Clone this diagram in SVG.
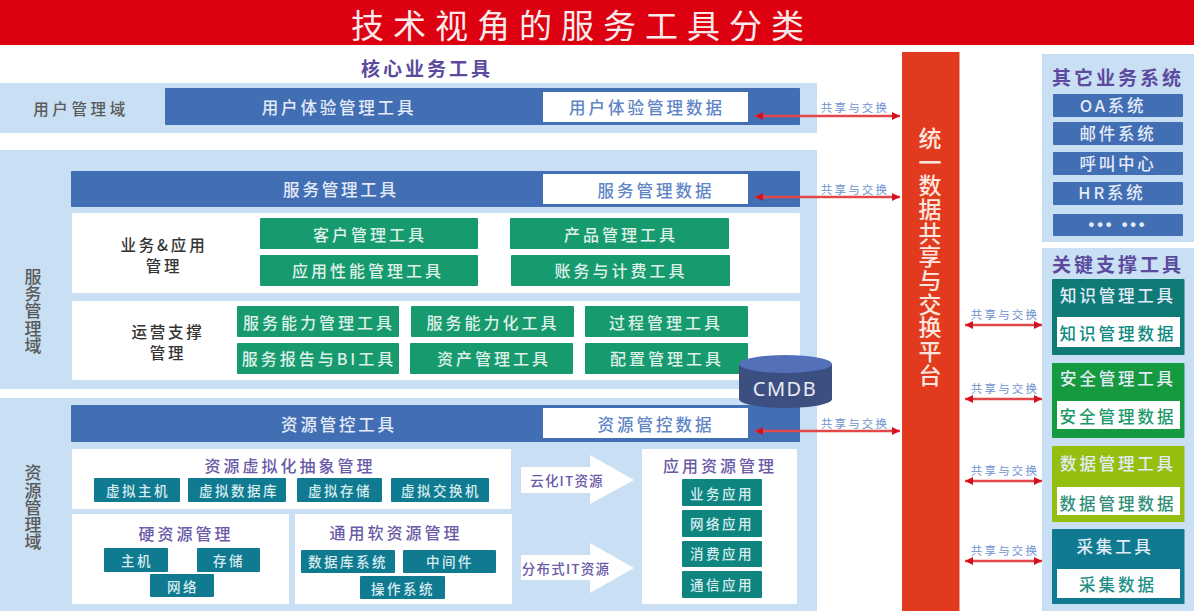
<svg xmlns="http://www.w3.org/2000/svg" width="1194" height="614" viewBox="0 0 1194 614">
<style>
text{font-family:"Noto Sans CJK SC","Noto Sans",sans-serif;text-anchor:middle;dominant-baseline:central}
.panel{fill:#c9dff3}.white{fill:#fff}.bar{fill:#426eb4}.green{fill:#169a6e}.teal{fill:#0f7a90}.app{fill:#0f8580}
.t-title{font-size:33px;letter-spacing:9px;fill:#fbeaea}
.t-head{font-size:19px;letter-spacing:3px;font-weight:700;fill:#5b4a9e}
.t-bar{font-size:16.5px;letter-spacing:2.8px;font-weight:500;fill:#e3ebf8}
.t-data{font-size:16.5px;letter-spacing:3px;font-weight:500;fill:#5f86c6}
.t-dom{font-size:15.5px;letter-spacing:3.6px;font-weight:500;fill:#5a5a5a}
.t-side{font-size:17px;letter-spacing:.3px;font-weight:500;fill:#5a5a5a;writing-mode:vertical-rl;text-orientation:upright}
.t-plat{font-size:23px;letter-spacing:.7px;font-weight:500;fill:#fbe6df;writing-mode:vertical-rl;text-orientation:upright}
.t-grp{font-size:15.5px;letter-spacing:2.8px;font-weight:500;fill:#333}
.t-btn{font-size:16px;letter-spacing:3px;font-weight:500;fill:#dff0e8}
.t-sub{font-size:16px;letter-spacing:3px;font-weight:500;fill:#6a5aa8}
.t-sm{font-size:13.5px;letter-spacing:2.5px;font-weight:500;fill:#d8ecf0}
.t-arr{font-size:13.5px;letter-spacing:1.2px;font-weight:500;fill:#6a5aa8}
.t-link{font-size:11.5px;letter-spacing:2.2px;fill:#6f93cf}
.line{stroke:#e2474a;stroke-width:2.5;fill:none;marker-start:url(#mS);marker-end:url(#mE)}
</style>
<defs>
<marker id="mE" markerUnits="userSpaceOnUse" markerWidth="10" markerHeight="10" refX="8" refY="5" orient="auto"><path d="M0 1L8 5L0 9z" fill="#d4121f"/></marker>
<marker id="mS" markerUnits="userSpaceOnUse" markerWidth="10" markerHeight="10" refX="2" refY="5" orient="auto"><path d="M10 1L2 5L10 9z" fill="#d4121f"/></marker>
</defs>
<rect width="1194" height="614" fill="#fff"/>

<g id="title"><rect width="1194" height="45" fill="#dc0011"/><text class="t-title" x="582" y="24">技术视角的服务工具分类</text></g>
<g id="core-heading"><text class="t-head" x="427" y="67">核心业务工具</text></g>

<g id="user-domain">
<rect class="panel" y="83" width="817" height="50"/>
<text class="t-dom" x="81" y="108">用户管理域</text>
<rect class="bar" x="165" y="88" width="635" height="37" rx="1"/>
<rect class="white" x="543" y="92" width="205" height="30"/>
<text class="t-bar" x="339" y="107">用户体验管理工具</text>
<text class="t-data" x="647" y="107">用户体验管理数据</text>
</g>

<g id="service-domain">
<rect class="panel" y="150" width="817" height="239"/>
<text class="t-side" x="33" y="311">服务管理域</text>
<rect class="bar" x="71" y="171" width="729" height="36" rx="1"/>
<rect class="white" x="543" y="174" width="205" height="30"/>
<text class="t-bar" x="341" y="189">服务管理工具</text>
<text class="t-data" x="656" y="190">服务管理数据</text>
<rect class="white" x="72" y="213" width="728" height="80" rx="1"/>
<text class="t-grp" x="164" y="244">业务&amp;应用</text><text class="t-grp" x="164" y="265">管理</text>
<rect class="green" x="260" y="218" width="218" height="31" rx="1"/><text class="t-btn" x="370" y="234">客户管理工具</text>
<rect class="green" x="510" y="218" width="219" height="31" rx="1"/><text class="t-btn" x="621" y="234">产品管理工具</text>
<rect class="green" x="260" y="255" width="218" height="31" rx="1"/><text class="t-btn" x="368" y="270">应用性能管理工具</text>
<rect class="green" x="511" y="255" width="219" height="31" rx="1"/><text class="t-btn" x="621" y="270">账务与计费工具</text>
<rect class="white" x="72" y="301" width="728" height="79" rx="1"/>
<text class="t-grp" x="168" y="331">运营支撑</text><text class="t-grp" x="168" y="352">管理</text>
<rect class="green" x="237" y="306" width="162" height="31" rx="1"/><text class="t-btn" x="319" y="322">服务能力管理工具</text>
<rect class="green" x="411" y="306" width="163" height="31" rx="1"/><text class="t-btn" x="493" y="322">服务能力化工具</text>
<rect class="green" x="585" y="306" width="163" height="31" rx="1"/><text class="t-btn" x="666" y="322">过程管理工具</text>
<rect class="green" x="237" y="343" width="162" height="31" rx="1"/><text class="t-btn" x="319" y="358">服务报告与BI工具</text>
<rect class="green" x="410" y="343" width="163" height="31" rx="1"/><text class="t-btn" x="494" y="358">资产管理工具</text>
<rect class="green" x="585" y="343" width="163" height="31" rx="1"/><text class="t-btn" x="667" y="358">配置管理工具</text>
</g>

<g id="resource-domain">
<rect class="panel" y="398" width="817" height="213"/>
<text class="t-side" x="33" y="507.5">资源管理域</text>
<rect class="bar" x="71" y="405" width="729" height="37" rx="1"/>
<rect class="white" x="543" y="408" width="205" height="30"/>
<text class="t-bar" x="339" y="424">资源管控工具</text>
<text class="t-data" x="656" y="424">资源管控数据</text>
<rect class="white" x="72" y="449" width="439" height="60"/>
<text class="t-sub" x="290" y="465">资源虚拟化抽象管理</text>
<rect class="teal" x="94" y="478" width="86" height="24" rx="1"/><text class="t-sm" x="138" y="490">虚拟主机</text>
<rect class="teal" x="188" y="478" width="98" height="24" rx="1"/><text class="t-sm" x="239" y="490">虚拟数据库</text>
<rect class="teal" x="297" y="478" width="85" height="24" rx="1"/><text class="t-sm" x="340" y="490">虚拟存储</text>
<rect class="teal" x="391" y="478" width="98" height="24" rx="1"/><text class="t-sm" x="441" y="490">虚拟交换机</text>
<rect class="white" x="72" y="514" width="217" height="90"/>
<text class="t-sub" x="186" y="533">硬资源管理</text>
<rect class="teal" x="104" y="548" width="64" height="24" rx="1"/><text class="t-sm" x="137" y="560">主机</text>
<rect class="teal" x="197" y="548" width="63" height="24" rx="1"/><text class="t-sm" x="229" y="560">存储</text>
<rect class="teal" x="150" y="574" width="64" height="23" rx="1"/><text class="t-sm" x="183" y="586">网络</text>
<rect class="white" x="295" y="514" width="217" height="90"/>
<text class="t-sub" x="396" y="532">通用软资源管理</text>
<rect class="teal" x="301" y="550" width="94" height="23" rx="1"/><text class="t-sm" x="348" y="561">数据库系统</text>
<rect class="teal" x="403" y="550" width="93" height="23" rx="1"/><text class="t-sm" x="450" y="561">中间件</text>
<rect class="teal" x="360" y="576" width="85" height="23" rx="1"/><text class="t-sm" x="403" y="588">操作系统</text>
<path class="white" d="M521 467H590V455L634 480L590 504V493H521z"/>
<text class="t-arr" x="567" y="480">云化IT资源</text>
<path class="white" d="M521 555H590V543L634 568L590 593V580H521z"/>
<text class="t-arr" x="566" y="568">分布式IT资源</text>
<rect class="white" x="642" y="449" width="155" height="155"/>
<text class="t-sub" x="720" y="465">应用资源管理</text>
<rect class="app" x="682" y="479" width="80" height="27" rx="1"/><text class="t-sm" x="722" y="493">业务应用</text>
<rect class="app" x="682" y="510" width="80" height="27" rx="1"/><text class="t-sm" x="722" y="523">网络应用</text>
<rect class="app" x="682" y="541" width="80" height="26" rx="1"/><text class="t-sm" x="722" y="553">消费应用</text>
<rect class="app" x="682" y="571" width="80" height="27" rx="1"/><text class="t-sm" x="722" y="584">通信应用</text>
</g>

<g id="cmdb">
<path d="M739 364V399C739 404 760 408 785.500 408C811 408 832 404 832 399V364z" fill="#3d4f80"/>
<ellipse cx="785.500" cy="364" rx="46.500" ry="9" fill="#5470b8"/>
<text x="785" y="388" font-size="20" letter-spacing="1.500" fill="#e8ecf6" style="font-family:'Noto Sans',sans-serif">CMDB</text>
</g>

<g id="platform">
<rect x="902" y="52" width="57.500" height="559" fill="#e23a1e"/>
<text class="t-plat" x="930" y="257">统一数据共享与交换平台</text>
</g>

<g id="other-systems">
<rect class="panel" x="1042" y="54" width="152" height="188"/>
<text class="t-head" x="1118" y="76">其它业务系统</text>
<rect class="bar" x="1053" y="94" width="130" height="23" rx="1"/><text class="t-bar" x="1113" y="105">OA系统</text>
<rect class="bar" x="1053" y="122" width="130" height="23" rx="1"/><text class="t-bar" x="1118" y="133">邮件系统</text>
<rect class="bar" x="1053" y="152" width="130" height="23" rx="1"/><text class="t-bar" x="1118" y="163">呼叫中心</text>
<rect class="bar" x="1053" y="182" width="130" height="23" rx="1"/><text class="t-bar" x="1112" y="192">HR系统</text>
<rect class="bar" x="1053" y="214" width="130" height="22" rx="1"/><text class="t-bar" x="1118" y="224" style="font-family:'Liberation Sans',sans-serif;font-weight:700">••• •••</text>
</g>

<g id="key-tools">
<rect class="panel" x="1042" y="248" width="152" height="363"/>
<text class="t-head" x="1118" y="263">关键支撑工具</text>
<rect x="1052" y="279" width="132.500" height="76" fill="#0e7b76" rx="1"/>
<text class="t-bar" x="1118" y="295">知识管理工具</text>
<rect class="white" x="1057" y="317" width="123" height="30"/>
<text class="t-data" x="1118" y="333" style="fill:#0e8a80">知识管理数据</text>
<rect x="1052" y="363" width="132.500" height="75" fill="#169a3f" rx="1"/>
<text class="t-bar" x="1118" y="378">安全管理工具</text>
<rect class="white" x="1057" y="401" width="123" height="28"/>
<text class="t-data" x="1118" y="416" style="fill:#1c9a6a">安全管理数据</text>
<rect x="1052" y="446" width="132.500" height="76" fill="#94bf0f" rx="1"/>
<text class="t-bar" x="1118" y="463">数据管理工具</text>
<rect class="white" x="1057" y="487" width="123" height="28"/>
<text class="t-data" x="1118" y="503" style="fill:#2f8f78">数据管理数据</text>
<rect x="1052" y="529" width="132.500" height="75" fill="#0f7a90" rx="1"/>
<text class="t-bar" x="1115" y="546">采集工具</text>
<rect class="white" x="1057" y="569" width="123" height="29"/>
<text class="t-data" x="1118" y="584" style="fill:#1c8f86">采集数据</text>
</g>

<g id="connectors">
<path class="line" d="M755 116H900"/>
<path class="line" d="M755 197H900"/>
<path class="line" d="M755 431H900"/>
<path class="line" d="M965 325H1042"/>
<path class="line" d="M965 399H1042"/>
<path class="line" d="M965 481H1042"/>
<path class="line" d="M965 561H1042"/>
<text class="t-link" x="855" y="107">共享与交换</text>
<text class="t-link" x="855" y="189">共享与交换</text>
<text class="t-link" x="855" y="423">共享与交换</text>
<text class="t-link" x="1005" y="314">共享与交换</text>
<text class="t-link" x="1005" y="388">共享与交换</text>
<text class="t-link" x="1005" y="470">共享与交换</text>
<text class="t-link" x="1005" y="550">共享与交换</text>
</g>
</svg>
